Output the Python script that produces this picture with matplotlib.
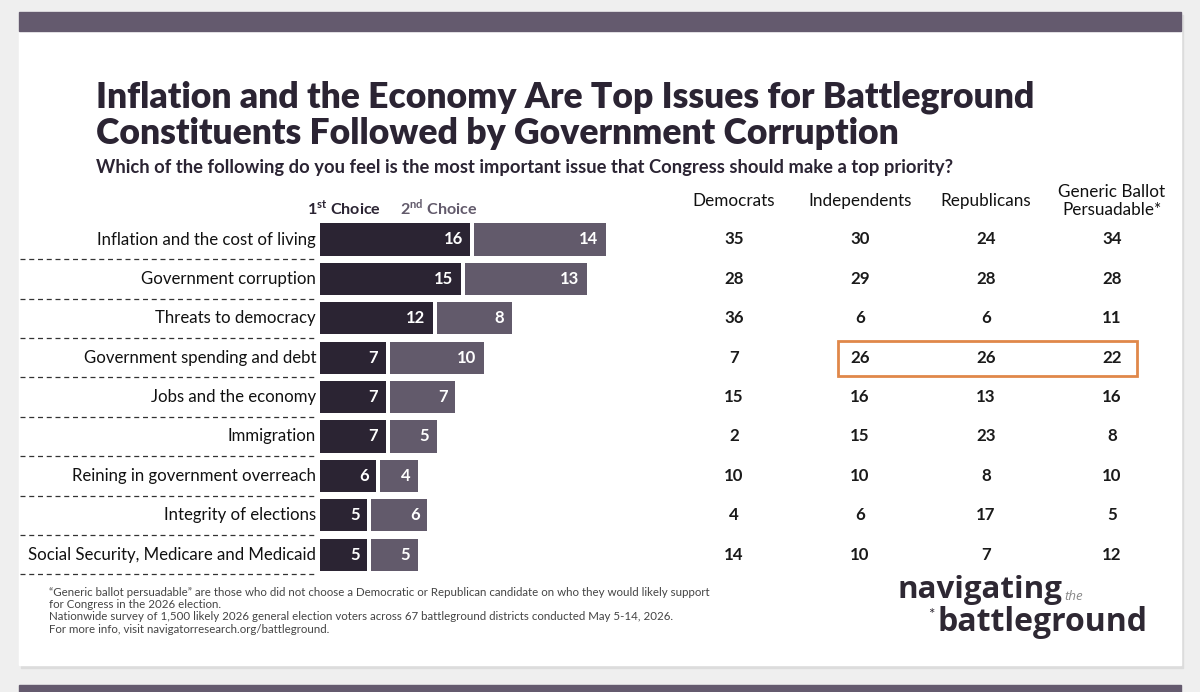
import matplotlib.pyplot as plt
from matplotlib.patches import Rectangle
from matplotlib.transforms import blended_transform_factory

plt.rcParams['font.family'] = ['Lato', 'DejaVu Sans']

# issues and first/second choice shares
issues = ["Inflation and the cost of living", "Government corruption",
          "Threats to democracy", "Government spending and debt",
          "Jobs and the economy", "Immigration",
          "Reining in government overreach", "Integrity of elections",
          "Social Security, Medicare and Medicaid"]
first = [16, 15, 12, 7, 7, 7, 6, 5, 5]
second = [14, 13, 8, 10, 7, 5, 4, 6, 5]

# first choice by group
groups = ["Democrats", "Independents", "Republicans", "Generic Ballot\nPersuadable*"]
dem = [35, 28, 36, 7, 15, 2, 10, 4, 14]
ind = [30, 29, 6, 26, 16, 15, 10, 6, 10]
rep = [24, 28, 6, 26, 13, 23, 8, 17, 7]
gen = [34, 28, 11, 22, 16, 8, 10, 5, 12]
highlight_row = 3  # Government spending and debt

DARK = "#2b2433"
MID = "#625a6b"
W, H = 1200, 692

fig = plt.figure(figsize=(12, 6.92), dpi=100, facecolor="#efefef")

# overlay axis in pixel coords for the card and text
ov = fig.add_axes([0, 0, 1, 1])
ov.set_xlim(0, W)
ov.set_ylim(H, 0)
ov.axis("off")
ov.add_patch(Rectangle((21, 15), 1162, 653, color="#dcdcdc", zorder=0))
ov.add_patch(Rectangle((19, 12), 1162, 653, color="white", zorder=1))
ov.add_patch(Rectangle((19, 12), 1162, 19, color="#645a6e", zorder=2))
ov.add_patch(Rectangle((19, 685), 1162, 10, color="#645a6e", zorder=2))

ov.text(96, 97, "Inflation and the Economy Are Top Issues for Battleground",
        fontsize=25.6, fontweight="heavy", color=DARK, va="center", zorder=3)
ov.text(96, 133, "Constituents Followed by Government Corruption",
        fontsize=25.6, fontweight="heavy", color=DARK, va="center", zorder=3)
ov.text(96, 168, "Which of the following do you feel is the most important issue "
        "that Congress should make a top priority?",
        fontsize=13.2, fontweight="bold", color=DARK, va="center", zorder=3)

# legend
ov.text(307, 208, r"1$^{\mathregular{st}}$ Choice", fontsize=11.6, fontweight="bold",
        color=DARK, va="center", zorder=3)
ov.text(400, 208, r"2$^{\mathregular{nd}}$ Choice", fontsize=11.6, fontweight="bold",
        color=MID, va="center", zorder=3)

# bars
K = 9.4  # px per point
x0, x1 = 320, 1180
row0, step = 239.5, 39.4
n = len(issues)
top = row0 - step / 2
bot = row0 + step * (n - 0.5)
ax = fig.add_axes([x0 / W, 1 - bot / H, (x1 - x0) / W, (bot - top) / H])
ax.set_xlim(0, (x1 - x0) / K)
ax.set_ylim(n - 0.5, -0.5)
ax.axis("off")
ax.patch.set_alpha(0)
ys = list(range(n))
gap = 0.4
ax.barh(ys, first, height=0.82, color=DARK, zorder=3)
ax.barh(ys, second, left=[f + gap for f in first], height=0.82, color=MID, zorder=3)
for i in ys:
    ax.text(first[i] - 0.8, i, str(first[i]), color="white", fontsize=12,
            fontweight="bold", ha="right", va="center", zorder=4)
    ax.text(first[i] + gap + second[i] - 0.8, i, str(second[i]), color="white",
            fontsize=12, fontweight="bold", ha="right", va="center", zorder=4)

tr = blended_transform_factory(ov.transData, ax.transData)
for i, name in enumerate(issues):
    ov.text(316, i, name, transform=tr, fontsize=12.1, color="#111111",
            ha="right", va="center", zorder=3)
    ov.plot([20, 316], [i + 0.5, i + 0.5], transform=tr, color="#333333",
            lw=0.9, ls=(0, (4, 3)), zorder=3)

# group table
col_x = [734, 860, 986, 1112]
for cx, g in zip(col_x, groups):
    ov.text(cx, 201, g, fontsize=12.3, color="#111111", ha="center",
            va="center", linespacing=1.1, zorder=3)
for cx, vals in zip(col_x, [dem, ind, rep, gen]):
    for i, v in enumerate(vals):
        ov.text(cx, i, str(v), transform=tr, fontsize=12.2, fontweight="bold",
                color="#1a1a1a", ha="center", va="center", zorder=3)
hy = row0 + step * highlight_row
ov.add_patch(Rectangle((838, hy - 17), 299, 35, fill=False, ec="#e0884a",
                       lw=2, zorder=3))

# footnotes
notes = ["\u201cGeneric ballot persuadable\u201d are those who did not choose a Democratic "
         "or Republican candidate on who they would likely support",
         "for Congress in the 2026 election.",
         "Nationwide survey of 1,500 likely 2026 general election voters across 67 "
         "battleground districts conducted May 5-14, 2026.",
         "For more info, visit navigatorresearch.org/battleground."]
for k, t in enumerate(notes):
    ov.text(49, 592 + 12.4 * k, t, fontsize=8.3, color="#444444", va="center", zorder=3)

# logo
logo_font = ["Open Sans", "DejaVu Sans"]
ov.text(897, 598, "navigating", fontsize=22.5, fontweight="bold", color="#2e2833",
        va="baseline", family=logo_font, zorder=3)
ov.text(1064, 600, "the", fontsize=9.5, style="italic", color="#888888",
        va="baseline", family=logo_font, zorder=3)
ov.text(928, 619, "*", fontsize=11, color="#2e2833", va="baseline", zorder=3)
ov.text(938, 631, "battleground", fontsize=23, fontweight="bold", color="#2e2833",
        va="baseline", family=logo_font, zorder=3)

fig.savefig("out.png", dpi=100, facecolor=fig.get_facecolor())
